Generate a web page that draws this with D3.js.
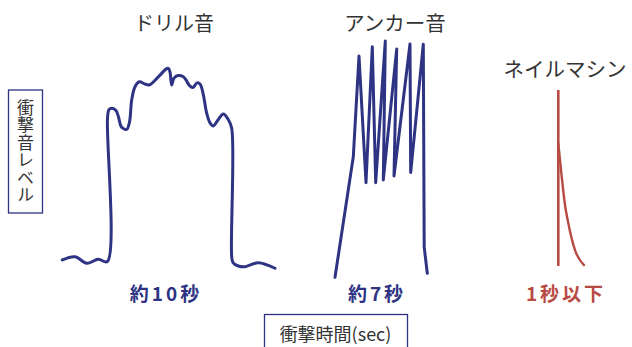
<!DOCTYPE html>
<html>
<head>
<meta charset="utf-8">
<script src="https://cdn.jsdelivr.net/npm/d3@7"></script>
<style>
  html, body { margin: 0; padding: 0; background: #fff; }
  svg { display: block; font-family: "Noto Sans CJK JP", "Noto Sans", sans-serif; }
</style>
</head>
<body>
<svg id="chart" width="632" height="347"></svg>
<script>
// Impact sound level over time for three fastening methods
const titles = ["ドリル音", "アンカー音", "ネイルマシン"];
const durations = ["約10秒", "約7秒", "1秒以下"];

// Drill: flat noise, sharp rise, wavy plateau, sharp drop
const drillT = [1.23, 2.5, 3.67, 4.83, 5.73, 5.75, 5.9, 6.2, 6.6, 6.85, 7.15, 7.67, 7.95, 8.17, 8.5, 8.93, 9.5, 9.93, 11.0, 11.6, 11.83, 12.0, 12.17, 12.4, 12.8, 13.3, 13.6, 13.93, 14.3, 14.7, 15.0, 15.3, 15.67, 16.0, 16.33, 16.8, 17.33, 17.8, 18.17, 18.17, 18.3, 18.83, 19.5, 20.83, 22.5];
const drillL = [8.7, 10.1, 7.3, 9.0, 8.0, 70.4, 74.1, 74.7, 73.7, 70.9, 66.5, 65.5, 68.7, 78.3, 84.0, 86.2, 85.2, 84.8, 89.1, 91.7, 92.0, 90.4, 84.8, 87.8, 88.9, 88.5, 87.0, 84.6, 83.7, 85.7, 85.2, 81.3, 72.5, 68.3, 67.0, 69.6, 72.2, 70.0, 66.0, 10.1, 7.6, 6.1, 5.8, 7.5, 5.1];

// Anchor: repeated hammering peaks
const anchorT = [28.5, 30.33, 30.9, 31.6, 32.23, 32.57, 33.53, 33.33, 34.67, 34.4, 36.0, 36.07, 37.33, 37.42, 37.73];
const anchorL = [1.2, 53.6, 97.4, 42.3, 101.4, 42.3, 103.9, 43.5, 100.4, 45.2, 102.6, 46.7, 102.5, 14.3, 2.9];

// Nail machine: single instant impact and quick decay
const nailT = [50.83, 50.83];
const nailL = [82.6, 6.1];
const nailDecayT = [50.83, 51.17, 51.5, 51.83, 52.5, 53.4];
const nailDecayL = [59.4, 44.9, 32.6, 24.7, 13.0, 6.5];

const navy = "#2e3383";
const red = "#b84a44";
const textColor = "#333";

const svg = d3.select("#chart");
const x = d3.scaleLinear().domain([0, 58]).range([50, 630]);
const y = d3.scaleLinear().domain([0, 100]).range([280, 50]);

const zip = (ts, ls) => ts.map((t, i) => [t, ls[i]]);

const lineCurve = d3.line().x(d => x(d[0])).y(d => y(d[1])).curve(d3.curveCatmullRom.alpha(0.5));
const lineStraight = d3.line().x(d => x(d[0])).y(d => y(d[1]));
const lineDecay = d3.line().x(d => x(d[0])).y(d => y(d[1])).curve(d3.curveMonotoneX);

svg.append("path").attr("d", lineCurve(zip(drillT, drillL)))
  .attr("fill", "none").attr("stroke", navy).attr("stroke-width", 3)
  .attr("stroke-linejoin", "round").attr("stroke-linecap", "round");

svg.append("path").attr("d", lineStraight(zip(anchorT, anchorL)))
  .attr("fill", "none").attr("stroke", navy).attr("stroke-width", 3)
  .attr("stroke-linejoin", "round").attr("stroke-linecap", "round");

svg.append("path").attr("d", lineStraight(zip(nailT, nailL)))
  .attr("fill", "none").attr("stroke", red).attr("stroke-width", 2.6);
svg.append("path").attr("d", lineDecay(zip(nailDecayT, nailDecayL)))
  .attr("fill", "none").attr("stroke", red).attr("stroke-width", 2.4)
  .attr("stroke-linecap", "round");

// Series titles
const titlePos = [[12.4, 31, 20], [34.5, 31, 20.5], [51.5, 77, 20.5]];
svg.selectAll("text.title").data(titles).join("text")
  .attr("class", "title")
  .attr("x", (d, i) => x(titlePos[i][0]))
  .attr("y", (d, i) => titlePos[i][1])
  .attr("text-anchor", "middle")
  .attr("font-size", (d, i) => titlePos[i][2])
  .attr("fill", textColor)
  .text(d => d);

// Duration labels
const durPos = [11.6, 32.7, 51.6];
svg.selectAll("text.dur").data(durations).join("text")
  .attr("class", "dur")
  .attr("x", (d, i) => x(durPos[i]))
  .attr("y", 301)
  .attr("text-anchor", "middle")
  .attr("font-size", 19)
  .attr("font-weight", 700)
  .attr("letter-spacing", 3)
  .attr("fill", (d, i) => i === 2 ? red : navy)
  .text(d => d);

// Y-axis label box
svg.append("rect").attr("x", 8.5).attr("y", 90).attr("width", 34).attr("height", 123)
  .attr("fill", "#fff").attr("stroke", navy).attr("stroke-width", 1.3);
svg.append("text")
  .attr("x", 25.5).attr("y", 151.5)
  .attr("text-anchor", "middle")
  .attr("font-size", 17)
  .attr("letter-spacing", 0.5)
  .attr("fill", textColor)
  .style("writing-mode", "vertical-rl")
  .text("衝撃音レベル");

// X-axis label box
svg.append("rect").attr("x", 264.5).attr("y", 314.5).attr("width", 143).attr("height", 50)
  .attr("fill", "#fff").attr("stroke", navy).attr("stroke-width", 1.3);
svg.append("text")
  .attr("x", 335.5).attr("y", 341)
  .attr("text-anchor", "middle")
  .attr("font-size", 18)
  .attr("fill", textColor)
  .text("衝撃時間(sec)");
</script>
</body>
</html>
